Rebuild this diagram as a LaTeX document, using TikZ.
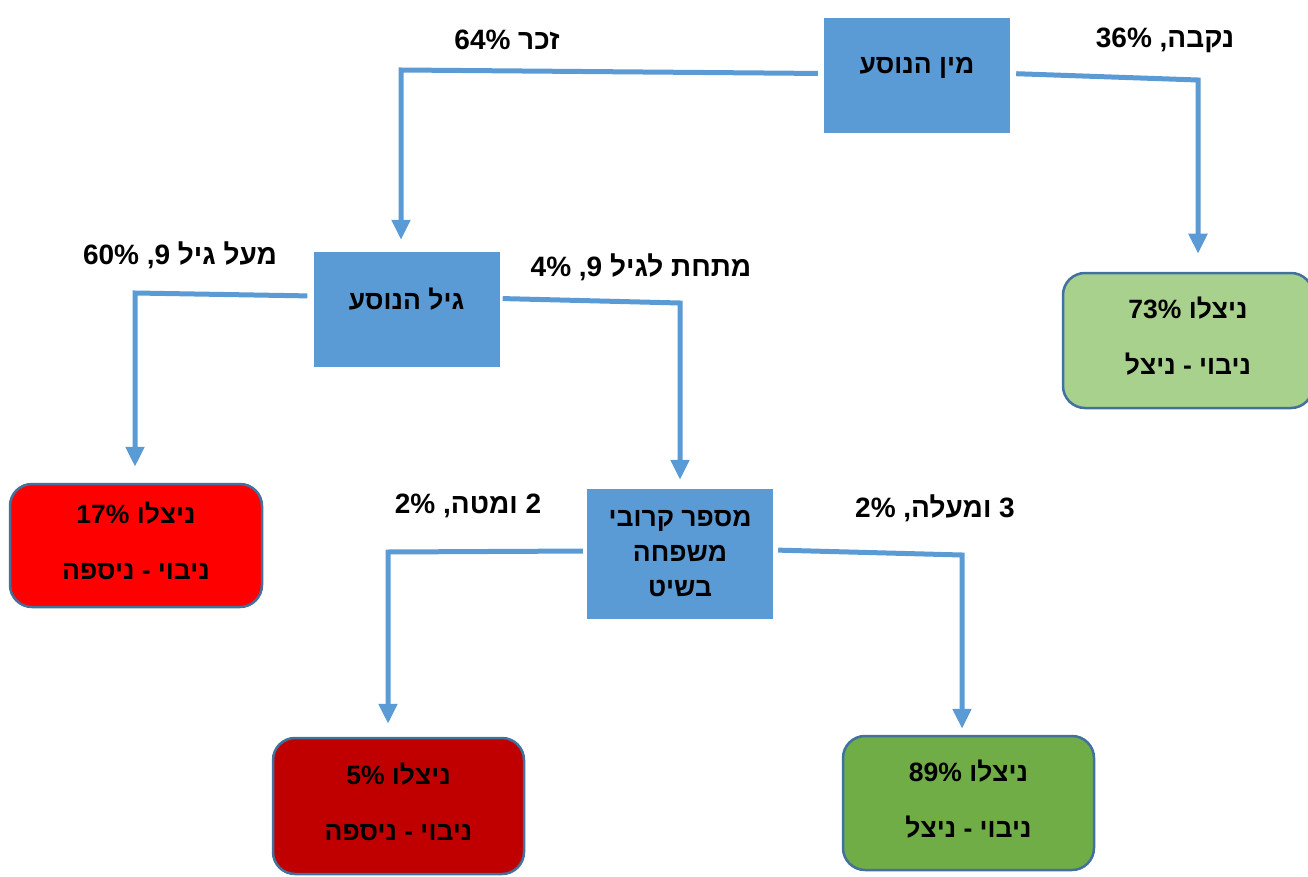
\documentclass[tikz,border=0pt]{standalone}
\usepackage{fontspec}
\usetikzlibrary{arrows.meta}
\TeXXeTstate=1
\setmainfont{Liberation Sans}
\newfontfamily\hebfont[Script=Hebrew]{Liberation Sans}
\newcommand{\hebtext}[1]{{\hebfont\bfseries\beginR #1\endR}}
\definecolor{boxblue}{RGB}{91, 155, 213}
\definecolor{rimblue}{RGB}{65, 113, 156}
\definecolor{palegreen}{RGB}{169, 209, 142}
\definecolor{grassgreen}{RGB}{112, 173, 71}
\definecolor{brightred}{RGB}{255, 0, 0}
\definecolor{deepred}{RGB}{192, 0, 0}
\tikzset{
  split/.style={fill=boxblue, minimum width=186pt, align=center, font=\fontsize{26.5}{35}\selectfont},
  leaf/.style={draw=rimblue, line width=2.5pt, rounded corners=22pt, align=center, text depth=9pt, font=\fontsize{26.5}{56}\selectfont},
  branch/.style={draw=boxblue, line width=5pt, -{Triangle[width=18pt,length=20pt]}},
  share/.style={font=\fontsize{28}{32}\selectfont}
}

\begin{document}
\begin{tikzpicture}[x=1pt, y=-1pt]
            \useasboundingbox (0,0) rectangle (1308,877);
            % split boxes
            \node[split, minimum height=115pt, text depth=20pt] (sexbox) at ( 917.0,  75.5) {\hebtext{מין הנוסע}};
            \node[split, minimum height=115pt, text depth=22pt] (agebox) at ( 406.5, 309.5) {\hebtext{גיל הנוסע}};
            \node[split, minimum height=130pt]                  (sibbox) at ( 680.0, 554.0)
                 {\hebtext{מספר קרובי}\\\hebtext{משפחה}\\\hebtext{בשיט}};
            % leaves
            \node[leaf, fill=palegreen,  minimum width=250pt, minimum height=135pt] (leafA) at (1188.0, 340.5)
                 {\hebtext{ניצלו \beginL73\%\endL}\\\hebtext{ניבוי - ניצל}};
            \node[leaf, fill=brightred,  minimum width=252pt, minimum height=123pt] (leafB) at ( 136.0, 545.5)
                 {\hebtext{ניצלו \beginL17\%\endL}\\\hebtext{ניבוי - ניספה}};
            \node[leaf, fill=deepred,    minimum width=251pt, minimum height=136pt] (leafC) at ( 398.5, 806.0)
                 {\hebtext{ניצלו \beginL5\%\endL}\\\hebtext{ניבוי - ניספה}};
            \node[leaf, fill=grassgreen, minimum width=251pt, minimum height=134pt] (leafD) at ( 968.5, 803.0)
                 {\hebtext{ניצלו \beginL89\%\endL}\\\hebtext{ניבוי - ניצל}};
            % corners
            \coordinate (m1) at ( 401,  70);
            \coordinate (f1) at (1198,  80);
            \coordinate (o1) at ( 135, 293);
            \coordinate (u1) at ( 680, 303);
            \coordinate (d1) at ( 388, 552);
            \coordinate (t1) at ( 962, 555);
            % branches
            \draw[branch, shorten <=6pt, shorten >=12pt] ([yshift=2pt]sexbox.west)    -- (m1) -- (agebox.north -| m1);
            \draw[branch, shorten <=6pt, shorten >=18pt] ([yshift=2pt]sexbox.east)    -- (f1) -- (leafA.north -| f1);
            \draw[branch, shorten <=6pt, shorten >=16pt] ([yshift=13.5pt]agebox.west) -- (o1) -- (leafB.north -| o1);
            \draw[branch, shorten <=3pt, shorten >=9pt]  ([yshift=11pt]agebox.east)   -- (u1) -- (sibbox.north -| u1);
            \draw[branch, shorten <=4pt, shorten >=13pt] ([yshift=3pt]sibbox.west)    -- (d1) -- (leafC.north -| d1);
            \draw[branch, shorten <=5pt, shorten >=6pt]  ([yshift=4pt]sibbox.east)    -- (t1) -- (leafD.north -| t1);
            % shares
            \node[share] (maleshare)   at ( 507,  40) {\hebtext{זכר \beginL64\%\endL}};
            \node[share] (femaleshare) at (1165,  40) {\hebtext{נקבה, \beginL36\%\endL}};
            \node[share] (oldshare)    at ( 180, 255) {\hebtext{מעל גיל \beginL9\endL, \beginL60\%\endL}};
            \node[share] (youngshare)  at ( 641, 267) {\hebtext{מתחת לגיל \beginL9\endL, \beginL4\%\endL}};
            \node[share] (fewshare)    at ( 468, 506) {\hebtext{\beginL2\endL{} ומטה, \beginL2\%\endL}};
            \node[share] (manyshare)   at ( 935, 508) {\hebtext{\beginL3\endL{} ומעלה, \beginL2\%\endL}};
        \end{tikzpicture}
\end{document}
